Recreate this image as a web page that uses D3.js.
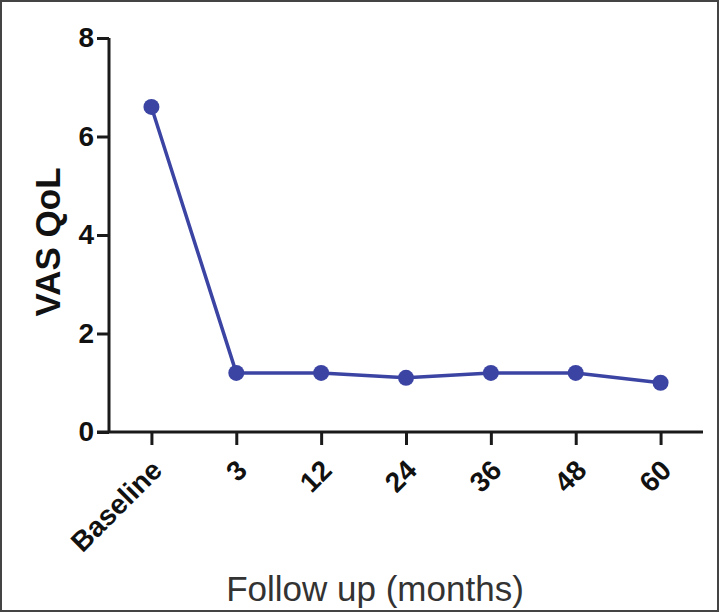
<!DOCTYPE html>
<html>
<head>
<script src="https://d3js.org/d3.v7.min.js"></script>
<style>
body { margin: 0; background: #fff; }
svg { display: block; }
text { font-family: "Liberation Sans", Arial, sans-serif; }
</style>
</head>
<body>
<svg class="chart"></svg>
<script>
// data
var categories = ["Baseline", "3", "12", "24", "36", "48", "60"];
var vasQol = [6.6, 1.2, 1.2, 1.1, 1.2, 1.2, 1.0];
var yTicks = [0, 2, 4, 6, 8];

var W = 720, H = 613;
var plot = {left: 109, right: 703, top: 38, bottom: 432};

var svg = d3.select(".chart").attr("width", W).attr("height", H);

// frame round the whole picture
svg.append("rect")
  .attr("x", 1).attr("y", 1)
  .attr("width", W - 3).attr("height", H - 3)
  .attr("fill", "#fff")
  .attr("stroke", "#444")
  .attr("stroke-width", 2);

var x = d3.scalePoint()
  .domain(categories)
  .range([plot.left, plot.right])
  .padding(0.5);

var y = d3.scaleLinear()
  .domain([0, 8])
  .range([plot.bottom, plot.top]);

//left axis
var yAxis = svg.append("g")
  .attr("transform", "translate(" + plot.left + ",0)")
  .call(d3.axisLeft(y).tickValues(yTicks).tickSize(12).tickPadding(3));

//bottom axis
var xAxis = svg.append("g")
  .attr("transform", "translate(0," + plot.bottom + ")")
  .call(d3.axisBottom(x).tickSize(13));

// extend x axis line left so it meets the 0 tick
xAxis.select(".domain").attr("d", "M" + (plot.left - 12) + ",0H" + plot.right);
yAxis.select(".domain").attr("d", "M0," + plot.top + "V" + plot.bottom);

svg.selectAll(".domain, .tick line")
  .attr("stroke", "#1a1a1a")
  .attr("stroke-width", 3);

yAxis.selectAll("text")
  .attr("font-size", 28)
  .attr("font-weight", "bold")
  .attr("fill", "#111");

xAxis.selectAll("text")
  .attr("font-size", 28)
  .attr("font-weight", "bold")
  .attr("fill", "#111")
  .attr("x", 0)
  .attr("y", 0)
  .attr("dy", "0.35em")
  .style("text-anchor", "end")
  .attr("transform", "translate(5,33) rotate(-45)");

// the series
var line = d3.line()
  .x(function(d, i){ return x(categories[i]); })
  .y(function(d){ return y(d); });

svg.append("path")
  .datum(vasQol)
  .attr("d", line)
  .attr("fill", "none")
  .attr("stroke", "#3b44a3")
  .attr("stroke-width", 3.5);

svg.selectAll(".dot")
  .data(vasQol)
  .enter()
  .append("circle")
  .attr("class", "dot")
  .attr("cx", function(d, i){ return x(categories[i]); })
  .attr("cy", function(d){ return y(d); })
  .attr("r", 8)
  .attr("fill", "#3b44a3");

//labels
svg.append("text")
  .attr("transform", "translate(60,242) rotate(-90)")
  .attr("text-anchor", "middle")
  .attr("font-size", 35)
  .attr("font-weight", "bold")
  .attr("fill", "#111")
  .text("VAS QoL");

svg.append("text")
  .attr("x", 375)
  .attr("y", 601)
  .attr("text-anchor", "middle")
  .attr("font-size", 35)
  .attr("fill", "#333")
  .text("Follow up (months)");
</script>
</body>
</html>
